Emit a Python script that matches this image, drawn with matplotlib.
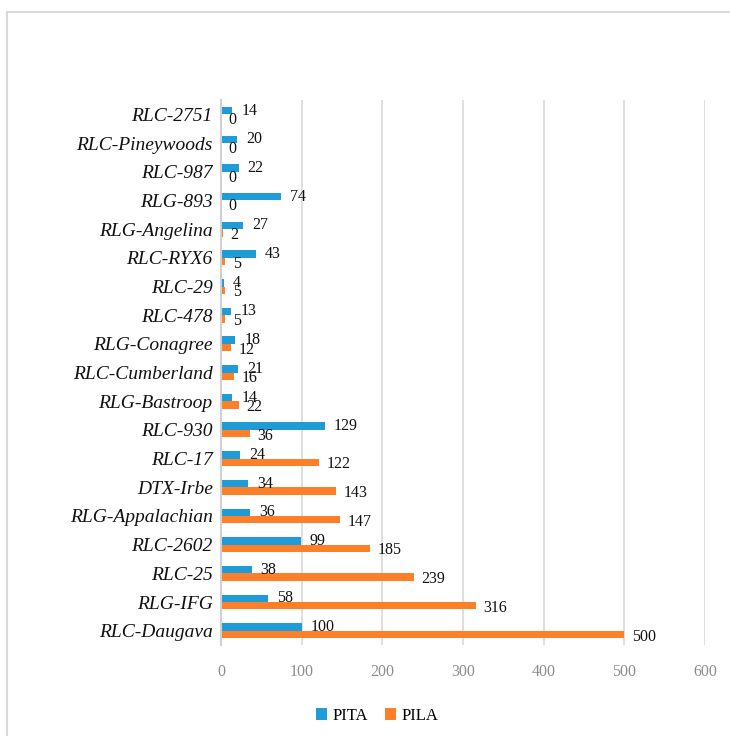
import matplotlib.pyplot as plt
from matplotlib.patches import Rectangle

# categories listed bottom -> top
categories = ['RLC-Daugava', 'RLG-IFG', 'RLC-25', 'RLC-2602', 'RLG-Appalachian',
              'DTX-Irbe', 'RLC-17', 'RLC-930', 'RLG-Bastroop', 'RLC-Cumberland',
              'RLG-Conagree', 'RLC-478', 'RLC-29', 'RLC-RYX6', 'RLG-Angelina',
              'RLG-893', 'RLC-987', 'RLC-Pineywoods', 'RLC-2751']
pita = [100, 58, 38, 99, 36, 34, 24, 129, 14, 21, 18, 13, 4, 43, 27, 74, 22, 20, 14]
pila = [500, 316, 239, 185, 147, 143, 122, 36, 22, 16, 12, 5, 5, 5, 2, 0, 0, 0, 0]
xticks = [0, 100, 200, 300, 400, 500, 600]

blue = '#1F9BD7'
orange = '#FD7F27'
serif = ['Liberation Serif', 'DejaVu Serif']

fig = plt.figure(figsize=(7.3, 7.36), dpi=100)
ax = fig.add_axes([0.3027, 0.1236, 0.6631, 0.7404])

# outer frame
fig.patches.append(Rectangle((7 / 730, -0.01), 1.0, 1 - 12 / 736 + 0.01,
                             transform=fig.transFigure, fill=False,
                             edgecolor='#D9D9D9', linewidth=1.5))

y = list(range(len(categories)))
h = 0.26
ax.barh([v + h / 2 for v in y], pita, height=h, color=blue, label='PITA')
ax.barh([v - h / 2 for v in y], pila, height=h, color=orange, label='PILA')

for i in y:
    ax.annotate(str(pita[i]), (pita[i], i + h / 2), xytext=(6.5, 0),
                textcoords='offset points', va='center', ha='left',
                fontsize=11.5, family=serif, color='#111111')
    ax.annotate(str(pila[i]), (pila[i], i - h / 2), xytext=(5.5, -1.5),
                textcoords='offset points', va='center', ha='left',
                fontsize=11.5, family=serif, color='#111111')

ax.set_xlim(0, 600)
ax.set_ylim(-0.5, len(categories) - 0.5)
ax.set_xticks(xticks)
ax.set_xticklabels([str(t) for t in xticks], family=serif, fontsize=11.5, color='#8C8C8C')
ax.set_yticks(y)
ax.set_yticklabels(categories, family=serif, style='italic', fontsize=14, color='#111111')
ax.tick_params(length=0, axis='both')
ax.tick_params(axis='x', pad=14)
ax.tick_params(axis='y', pad=6)

ax.grid(axis='x', color='#D9D9D9', linewidth=1.2)
ax.set_axisbelow(True)
for s in ['top', 'right', 'bottom']:
    ax.spines[s].set_visible(False)
ax.spines['left'].set_color('#D0D0D0')
ax.spines['left'].set_linewidth(1.5)

fig.legend(loc='center', bbox_to_anchor=(377 / 730, 1 - 716 / 736), ncol=2,
           frameon=False, prop={'family': serif, 'size': 12},
           handlelength=0.7, handleheight=0.7, handletextpad=0.3, columnspacing=1.0)

fig.savefig('out.png', dpi=100)
